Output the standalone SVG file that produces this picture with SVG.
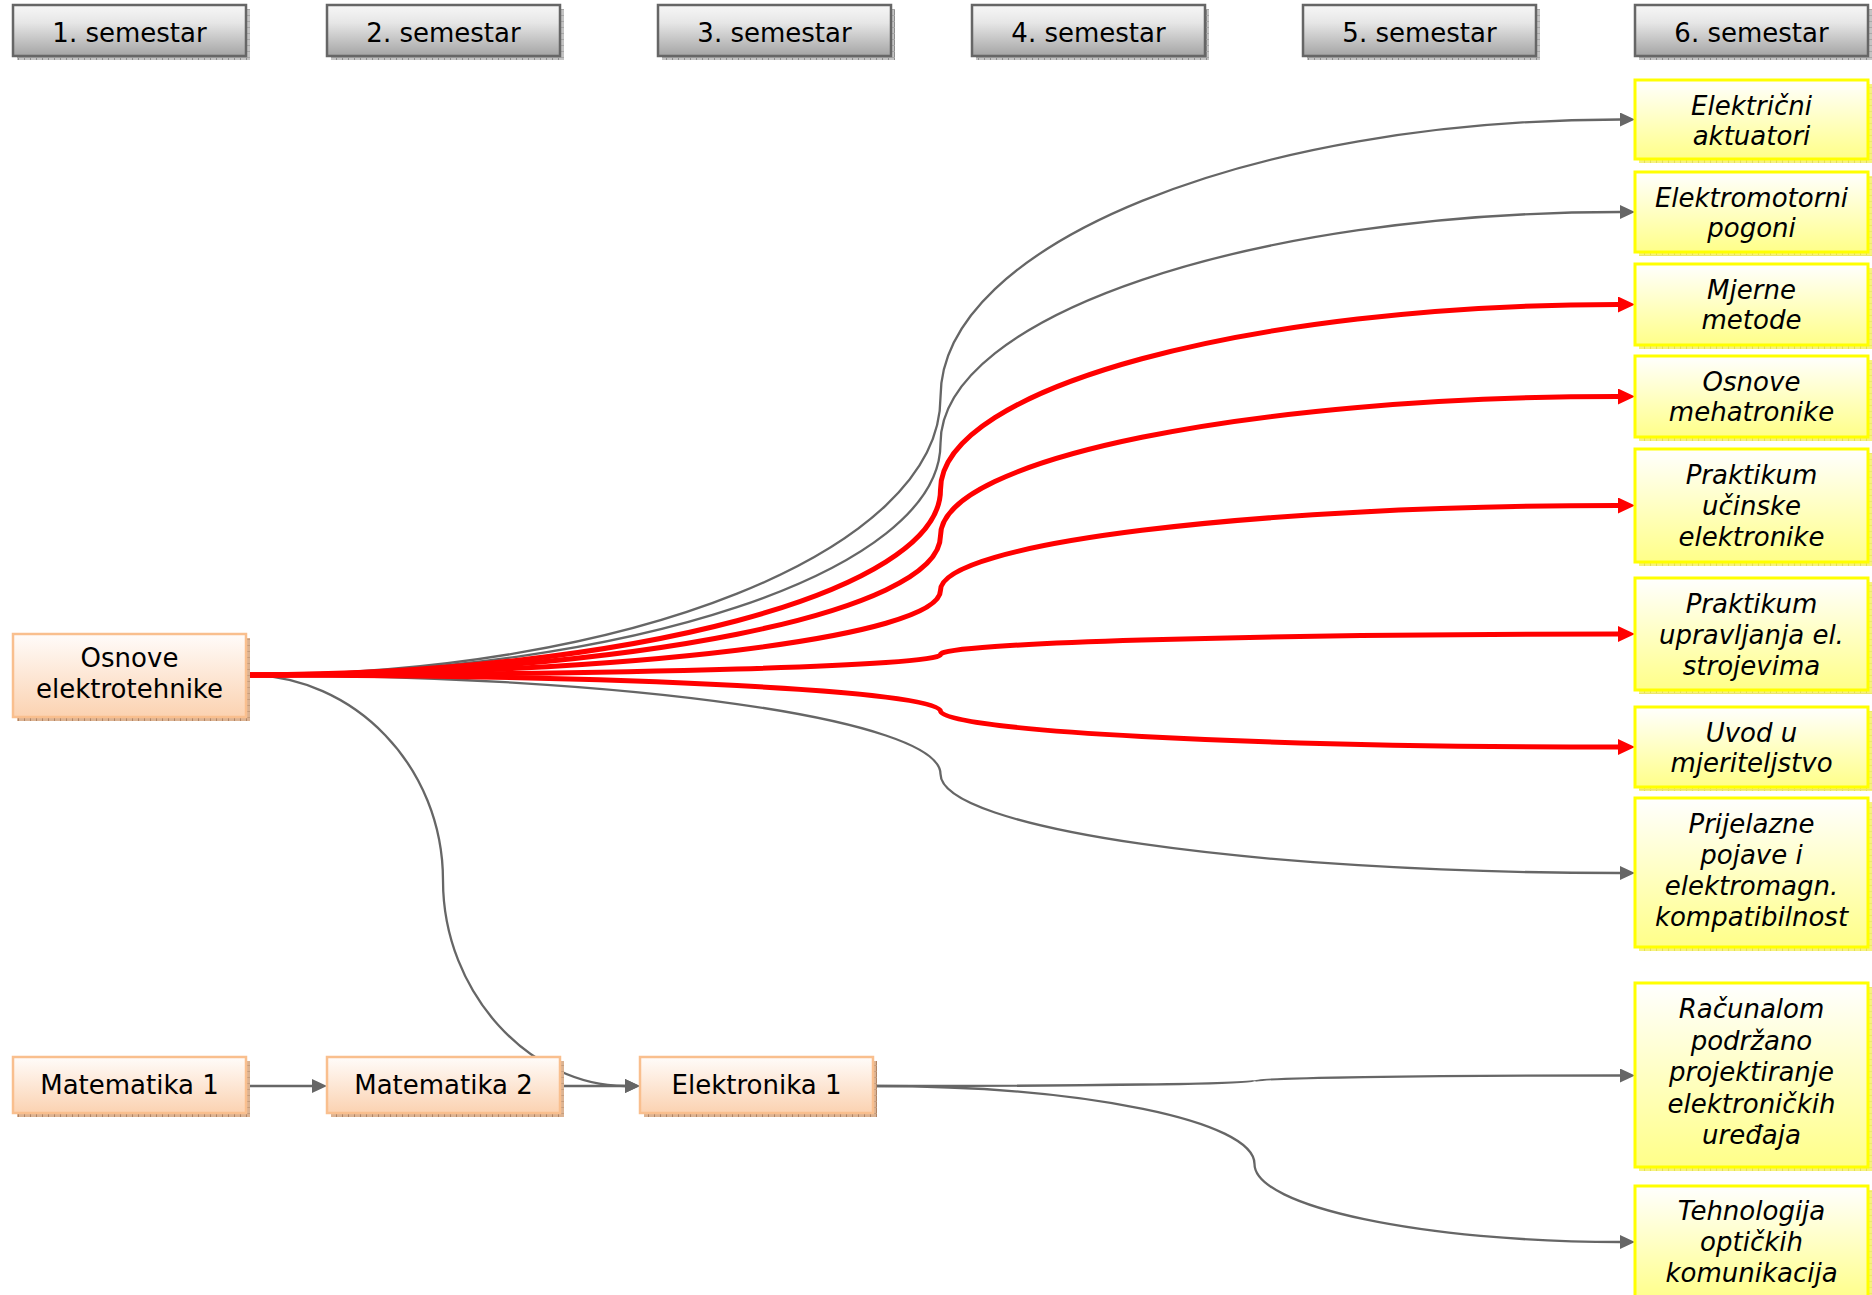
<svg xmlns="http://www.w3.org/2000/svg" width="1872" height="1295" viewBox="0 0 1872 1295">
<defs>
<linearGradient id="gHead" x1="0" y1="0" x2="0" y2="1"><stop offset="0" stop-color="#f7f7f7"/><stop offset="0.35" stop-color="#e6e6e6"/><stop offset="1" stop-color="#a4a4a4"/></linearGradient>
<linearGradient id="gOrange" x1="0" y1="0" x2="0" y2="1"><stop offset="0" stop-color="#fffcfa"/><stop offset="1" stop-color="#fbd2b1"/></linearGradient>
<linearGradient id="gYellow" x1="0" y1="0" x2="0" y2="1"><stop offset="0" stop-color="#ffffff"/><stop offset="1" stop-color="#ffff88"/></linearGradient>
<pattern id="hGray" width="6" height="6" patternUnits="userSpaceOnUse"><rect width="6" height="6" fill="#c4c4c4"/><rect width="1" height="6" fill="#8e8e8e"/><rect width="6" height="1" y="3" fill="#a8a8a8"/></pattern>
<pattern id="hOrange" width="6" height="6" patternUnits="userSpaceOnUse"><rect width="6" height="6" fill="#dcb392"/><rect width="1" height="6" fill="#b08566"/><rect width="6" height="1" y="3" fill="#c69d7c"/></pattern>
<pattern id="hYellow" width="6" height="6" patternUnits="userSpaceOnUse"><rect width="6" height="6" fill="#f6f27c"/><rect width="1" height="6" fill="#e2dc5a"/><rect width="6" height="1" y="3" fill="#ece66a"/></pattern>
<marker id="aGray" markerUnits="userSpaceOnUse" markerWidth="15" markerHeight="14" refX="0" refY="7" orient="auto"><path d="M0,0 L15,7 L0,14 z" fill="#666666"/></marker>
<marker id="aRed" markerUnits="userSpaceOnUse" markerWidth="17" markerHeight="16" refX="0" refY="8" orient="auto"><path d="M0,0 L17,8 L0,16 z" fill="#ff0000"/></marker>
</defs>
<style>
.head{fill:url(#gHead);stroke:#666666;stroke-width:2.5}
.hsh{fill:url(#hGray)}
.orn{fill:url(#gOrange);stroke:#f9bf8e;stroke-width:2.5}
.osh{fill:url(#hOrange)}
.yel{fill:url(#gYellow);stroke:#ffff00;stroke-width:3}
.ysh{fill:url(#hYellow)}
text{font-family:"DejaVu Sans","Liberation Sans",sans-serif;font-size:26px;fill:#000;text-anchor:middle}
.it{font-style:italic}
.g{fill:none;stroke:#666666;stroke-width:2.3;marker-end:url(#aGray)}
.r{fill:none;stroke:#ff0000;stroke-width:5;marker-end:url(#aRed)}
</style>

<g id="headers">
<g id="sem1"><rect class="hsh" x="17" y="9" width="233" height="51"/><rect class="head" x="13" y="5" width="233" height="51"/><text x="129.5" y="42">1. semestar</text></g>
<g id="sem2"><rect class="hsh" x="331" y="9" width="233" height="51"/><rect class="head" x="327" y="5" width="233" height="51"/><text x="443.5" y="42">2. semestar</text></g>
<g id="sem3"><rect class="hsh" x="662" y="9" width="233" height="51"/><rect class="head" x="658" y="5" width="233" height="51"/><text x="774.5" y="42">3. semestar</text></g>
<g id="sem4"><rect class="hsh" x="976" y="9" width="233" height="51"/><rect class="head" x="972" y="5" width="233" height="51"/><text x="1088.5" y="42">4. semestar</text></g>
<g id="sem5"><rect class="hsh" x="1307" y="9" width="233" height="51"/><rect class="head" x="1303" y="5" width="233" height="51"/><text x="1419.5" y="42">5. semestar</text></g>
<g id="sem6"><rect class="hsh" x="1639" y="9" width="233" height="51"/><rect class="head" x="1635" y="5" width="233" height="51"/><text x="1751.5" y="42">6. semestar</text></g>
</g>

<g id="connectors">
<path class="g" d="M246,675 C629.4,675 940.5,550.6 940.5,397.3 C940.5,243.9 1251.6,119.5 1620,119.5"/>
<path class="g" d="M246,675 C629.4,675 940.5,571.3 940.5,443.5 C940.5,315.7 1251.6,212 1620,212"/>
<path class="g" d="M246,675 C629.4,675 940.5,719.4 940.5,774 C940.5,828.6 1251.6,873 1620,873"/>
<path class="g" d="M246,675 C354.7,675 443,767.1 443,880.5 C443,993.9 531.3,1086 625,1086"/>
<path class="g" d="M246,1086 L312,1086"/>
<path class="g" d="M560,1086 L625,1086"/>
<path class="g" d="M874,1086 C1084,1086 1254.5,1083.6 1254.5,1080.8 C1254.5,1077.9 1425,1075.5 1620,1075.5"/>
<path class="g" d="M874,1086 C1084,1086 1254.5,1120.9 1254.5,1164 C1254.5,1207.1 1425,1242 1620,1242"/>
<path class="r" d="M246,675 C629.4,675 940.5,592 940.5,489.8 C940.5,387.5 1251.6,304.5 1618,304.5"/>
<path class="r" d="M246,675 C629.4,675 940.5,612.6 940.5,535.8 C940.5,458.9 1251.6,396.5 1618,396.5"/>
<path class="r" d="M246,675 C629.4,675 940.5,637 940.5,590.3 C940.5,543.5 1251.6,505.5 1618,505.5"/>
<path class="r" d="M246,675 C629.4,675 940.5,665.8 940.5,654.5 C940.5,643.2 1251.6,634 1618,634"/>
<path class="r" d="M246,675 C629.4,675 940.5,691.1 940.5,711 C940.5,730.9 1251.6,747 1618,747"/>
</g>

<g id="osnove-elektrotehnike"><rect class="osh" x="17" y="638" width="233" height="83"/><rect class="orn" x="13" y="634" width="233" height="83"/><text x="129.5" y="667">Osnove</text><text x="129.5" y="698">elektrotehnike</text></g>
<g id="matematika-1"><rect class="osh" x="17" y="1061" width="233" height="56"/><rect class="orn" x="13" y="1057" width="233" height="56"/><text x="129.5" y="1094">Matematika 1</text></g>
<g id="matematika-2"><rect class="osh" x="331" y="1061" width="233" height="56"/><rect class="orn" x="327" y="1057" width="233" height="56"/><text x="443.5" y="1094">Matematika 2</text></g>
<g id="elektronika-1"><rect class="osh" x="644" y="1061" width="233" height="56"/><rect class="orn" x="640" y="1057" width="233" height="56"/><text x="756.5" y="1094">Elektronika 1</text></g>

<g id="elektricni-aktuatori"><rect class="ysh" x="1639" y="84" width="233" height="79"/><rect class="yel" x="1635" y="80" width="233" height="79"/><text class="it" x="1751.5" y="115">Električni</text><text class="it" x="1751.5" y="145">aktuatori</text></g>
<g id="elektromotorni-pogoni"><rect class="ysh" x="1639" y="176" width="233" height="80"/><rect class="yel" x="1635" y="172" width="233" height="80"/><text class="it" x="1751.5" y="207">Elektromotorni</text><text class="it" x="1751.5" y="237">pogoni</text></g>
<g id="mjerne-metode"><rect class="ysh" x="1639" y="268" width="233" height="81"/><rect class="yel" x="1635" y="264" width="233" height="81"/><text class="it" x="1751.5" y="299">Mjerne</text><text class="it" x="1751.5" y="329">metode</text></g>
<g id="osnove-mehatronike"><rect class="ysh" x="1639" y="360" width="233" height="81"/><rect class="yel" x="1635" y="356" width="233" height="81"/><text class="it" x="1751.5" y="391">Osnove</text><text class="it" x="1751.5" y="421">mehatronike</text></g>
<g id="praktikum-ucinske"><rect class="ysh" x="1639" y="453" width="233" height="113"/><rect class="yel" x="1635" y="449" width="233" height="113"/><text class="it" x="1751.5" y="484">Praktikum</text><text class="it" x="1751.5" y="515">učinske</text><text class="it" x="1751.5" y="546">elektronike</text></g>
<g id="praktikum-upravljanja"><rect class="ysh" x="1639" y="582" width="233" height="112"/><rect class="yel" x="1635" y="578" width="233" height="112"/><text class="it" x="1751.5" y="613">Praktikum</text><text class="it" x="1751.5" y="644">upravljanja el.</text><text class="it" x="1751.5" y="675">strojevima</text></g>
<g id="uvod-mjeriteljstvo"><rect class="ysh" x="1639" y="711" width="233" height="80"/><rect class="yel" x="1635" y="707" width="233" height="80"/><text class="it" x="1751.5" y="742">Uvod u</text><text class="it" x="1751.5" y="772">mjeriteljstvo</text></g>
<g id="prijelazne-pojave"><rect class="ysh" x="1639" y="802" width="233" height="149"/><rect class="yel" x="1635" y="798" width="233" height="149"/><text class="it" x="1751.5" y="833">Prijelazne</text><text class="it" x="1751.5" y="864">pojave i</text><text class="it" x="1751.5" y="895">elektromagn.</text><text class="it" x="1751.5" y="926">kompatibilnost</text></g>
<g id="racunalom-podrzano"><rect class="ysh" x="1639" y="987" width="233" height="184"/><rect class="yel" x="1635" y="983" width="233" height="184"/><text class="it" x="1751.5" y="1018">Računalom</text><text class="it" x="1751.5" y="1049.5">podržano</text><text class="it" x="1751.5" y="1081">projektiranje</text><text class="it" x="1751.5" y="1112.5">elektroničkih</text><text class="it" x="1751.5" y="1144">uređaja</text></g>
<g id="tehnologija-optickih"><rect class="ysh" x="1639" y="1190" width="233" height="115"/><rect class="yel" x="1635" y="1186" width="233" height="115"/><text class="it" x="1751.5" y="1220">Tehnologija</text><text class="it" x="1751.5" y="1251">optičkih</text><text class="it" x="1751.5" y="1282">komunikacija</text></g>
</svg>
